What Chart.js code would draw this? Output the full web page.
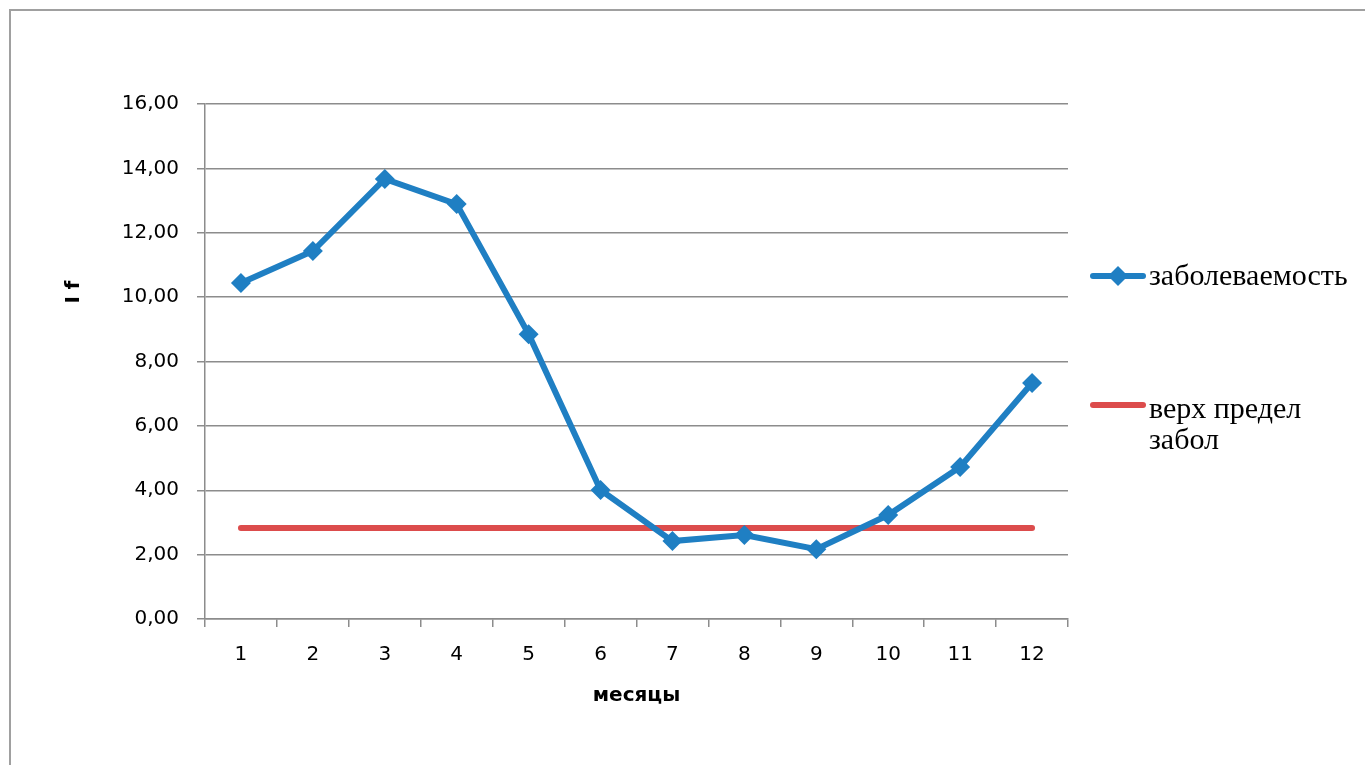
<!DOCTYPE html>
<html>
<head>
<meta charset="utf-8">
<script src="https://cdn.jsdelivr.net/npm/chart.js@4"></script>
<style>
  body { margin: 0; background: #fff; }
  #wrap { position: relative; width: 1365px; height: 765px; overflow: hidden; }
  #frame { position: absolute; left: 9px; top: 9px; width: 1400px; height: 800px; border: 2px solid #a0a0a0; }
  canvas { position: absolute; left: 0; top: 0; }
</style>
</head>
<body>
<div id="wrap">
  <div id="frame"></div>
  <canvas id="myChart" width="1365" height="765"></canvas>
</div>
<script>
// данные с графика
const months = ["1", "2", "3", "4", "5", "6", "7", "8", "9", "10", "11", "12"];
const incidence = [10.44, 11.43, 13.67, 12.89, 8.85, 4.01, 2.42, 2.61, 2.17, 3.23, 4.72, 7.33];
const upperLimit = [2.83, 2.83, 2.83, 2.83, 2.83, 2.83, 2.83, 2.83, 2.83, 2.83, 2.83, 2.83];
const seriesNames = ["заболеваемость", ["верх предел", "забол"]];
const yTitle = "I f";
const xTitle = "месяцы";

const blue = "#1f7fc3";
const red = "#dc4c4c";
const gridColor = "#8c8c8c";
const tickFont = { family: "DejaVu Sans", size: 20 };

// легенда справа и подпись оси Y, рисуем сами
const sideLegend = {
  id: "sideLegend",
  afterDraw(chart) {
    const c = chart.ctx;
    const rows = [276, 405];
    c.save();
    chart.data.datasets.forEach((ds, i) => {
      const y = rows[i];
      c.strokeStyle = ds.borderColor;
      c.lineWidth = 6;
      c.lineCap = "round";
      c.beginPath();
      c.moveTo(1093, y);
      c.lineTo(1143, y);
      c.stroke();
      if (ds.pointStyle === "rectRot") {
        c.fillStyle = ds.borderColor;
        c.beginPath();
        c.moveTo(1118, y - 10);
        c.lineTo(1128, y);
        c.lineTo(1118, y + 10);
        c.lineTo(1108, y);
        c.closePath();
        c.fill();
      }
      c.fillStyle = "#000";
      c.font = "30px 'Liberation Serif'";
      c.textBaseline = "middle";
      const lines = Array.isArray(ds.label) ? ds.label : [ds.label];
      lines.forEach((t, k) => c.fillText(t, 1149, y + (k === 0 && i === 1 ? 5 : 1) + k * 35));
    });

    // подпись оси Y
    c.translate(74, 292);
    c.rotate(-Math.PI / 2);
    c.font = "bold 20px 'DejaVu Sans'";
    c.textAlign = "center";
    c.textBaseline = "middle";
    c.fillText(yTitle, 0, 0);
    c.restore();
  },
};

const ctx = document.getElementById("myChart").getContext("2d");
const myChart = new Chart(ctx, {
  type: "line",
  data: {
    labels: months,
    datasets: [
      {
        label: seriesNames[0],
        data: incidence,
        borderColor: blue,
        backgroundColor: blue,
        borderWidth: 6,
        pointStyle: "rectRot",
        pointRadius: 10,
        pointHoverRadius: 10,
        pointBorderWidth: 0,
        tension: 0,
      },
      {
        label: seriesNames[1],
        data: upperLimit,
        borderColor: red,
        backgroundColor: red,
        borderWidth: 6,
        borderCapStyle: "round",
        pointRadius: 0,
        tension: 0,
      },
    ],
  },
  options: {
    responsive: false,
    animation: false,
    layout: { padding: { left: 50, top: 104, right: 1365 - 1068, bottom: 53 } },
    plugins: { legend: { display: false }, tooltip: { enabled: false } },
    scales: {
      x: {
        offset: true,
        grid: {
          offset: true,
          drawOnChartArea: false,
          drawTicks: true,
          tickLength: 8,
          color: gridColor,
          lineWidth: 1.5,
        },
        border: { color: gridColor, width: 1.5 },
        ticks: { color: "#000", font: tickFont, padding: 16 },
        title: {
          display: true,
          text: xTitle,
          color: "#000",
          font: { family: "DejaVu Sans", size: 20, weight: "bold" },
          padding: { top: 4 },
        },
        afterFit(scale) { scale.height = 765 - 53 - 619; },
      },
      y: {
        min: 0,
        max: 16,
        ticks: {
          stepSize: 2,
          color: "#000",
          font: tickFont,
          padding: 18,
          callback: v => v.toFixed(2).replace(".", ","),
        },
        grid: { color: gridColor, lineWidth: 1.5, tickLength: 8 },
        border: { color: gridColor, width: 1.5 },
        afterFit(scale) { scale.width = 205 - 50; },
      },
    },
  },
  plugins: [sideLegend],
});
</script>
</body>
</html>
